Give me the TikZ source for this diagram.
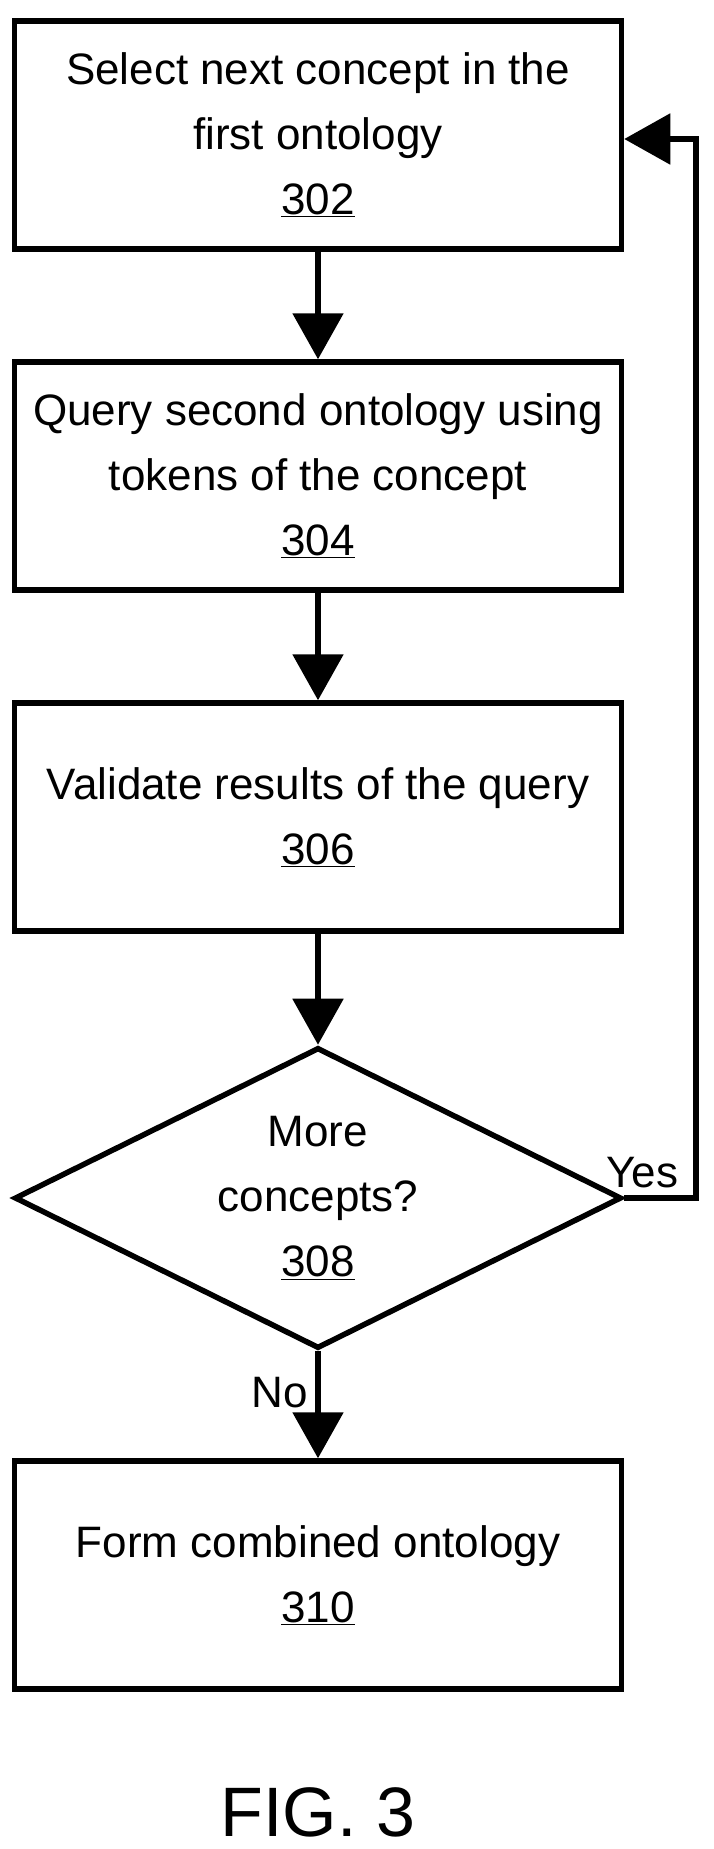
\documentclass[tikz,border=0pt]{standalone}
\usepackage{fontspec}
\setmainfont{Liberation Sans}
\usetikzlibrary{positioning,shapes.geometric,arrows.meta}

\begin{document}
\begin{tikzpicture}[x=1pt,y=1pt,
                line width=5.5pt,
                box/.style={draw,align=center,minimum width=607pt,minimum height=228pt,inner sep=0pt},
                flow/.style={-{Triangle[width=50pt,length=46pt]}},
                every node/.style={font=\fontsize{44}{65}\selectfont}]
\useasboundingbox (0,0) rectangle (714,-1849);

                    % 302
                    \node[box] (SELECT) at (318,-135) {Select next concept in the\\first ontology\\\underline{302}};

                    % 304
                    \node[box] (QUERY) at (318,-476) {Query second ontology using\\tokens of the concept\\\underline{304}};

                    % 306
                    \node[box] (VALID) at (318,-817) {Validate results of the query\\\underline{306}};

                    % 308
                    \node[draw,diamond,aspect=2.02,inner sep=0pt,minimum width=607pt,minimum height=301pt,align=center] (MORE) at (318,-1198) {More\\concepts?\\\underline{308}};

                    % 310
                    \node[box] (FORM) at (318,-1575) {Form combined ontology\\\underline{310}};

                    \node (FIG) at (318,-1812) {\fontsize{70}{72}\selectfont FIG. 3};

                    \draw[flow] (SELECT) -- (QUERY);
                    \draw[flow] (QUERY) -- (VALID);
                    \draw[flow] (VALID) -- (MORE);
                    \draw[flow] (MORE) -- node[left,xshift=-4pt,yshift=12pt] {No} (FORM);
                    \draw[flow] (MORE.east) -- node[above,pos=0.25,yshift=4pt] {Yes} (696,-1198) |- (SELECT.east |- 0,-139);

\end{tikzpicture}
\end{document}
